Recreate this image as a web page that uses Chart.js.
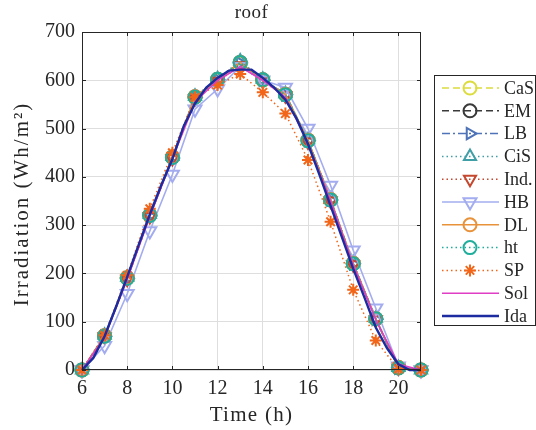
<!DOCTYPE html>
<html>
<head>
<meta charset="utf-8">
<script src="https://cdn.jsdelivr.net/npm/chart.js@4.4.1/dist/chart.umd.min.js"></script>
<style>
  html, body { margin: 0; padding: 0; background: #fff; }
  #wrap { width: 536px; height: 430px; position: relative; }
</style>
</head>
<body>
<div id="wrap"><canvas id="myChart"></canvas></div>
<script>
// hourly samples
const hours = [6, 7, 8, 9, 10, 11, 12, 13, 14, 15, 16, 17, 18, 19, 20, 21];
const cas = [0, 70, 190, 320, 440, 565, 600, 635, 600, 570, 475, 352, 220, 105, 5, 0];
const em  = [0, 71, 191, 321, 441, 566, 602, 637, 601, 571, 476, 353, 221, 106, 5, 0];
const lb  = [0, 70, 189, 319, 439, 564, 601, 636, 600, 570, 475, 352, 220, 105, 4, 0];
const cis = [0, 72, 192, 322, 442, 567, 603, 640, 602, 572, 477, 354, 222, 107, 5, 0];
const ind = [0, 69, 188, 318, 438, 562, 598, 630, 598, 568, 472, 350, 218, 104, 4, 0];
const hb  = [0, 50, 158, 288, 405, 540, 582, 628, 600, 585, 500, 382, 248, 128, 8, 0];
const dl  = [0, 71, 191, 321, 441, 566, 602, 637, 601, 571, 476, 353, 221, 106, 5, 0];
const ht  = [0, 70, 190, 320, 440, 565, 602, 637, 601, 570, 475, 352, 220, 106, 4, 0];
const sp  = [0, 72, 196, 334, 450, 565, 590, 613, 575, 531, 435, 307, 166, 61, 2, 0];
const sol = [0, 68, 188, 318, 438, 555, 600, 628, 600, 565, 470, 350, 218, 104, 12, 0];

// half-hourly samples
const idaHours = [6, 6.5, 7, 7.5, 8, 8.5, 9, 9.5, 10, 10.5, 11, 11.5, 12, 12.5, 13, 13.5,
                  14, 14.5, 15, 15.5, 16, 16.5, 17, 17.5, 18, 18.5, 19, 19.5, 20, 20.5, 21];
const ida = [0, 25, 70, 130, 193, 258, 322, 382, 437, 505, 552, 585, 605, 620, 622, 622,
             605, 585, 560, 520, 468, 405, 340, 275, 210, 150, 88, 45, 12, 0, 0];

const xTicks = [6, 8, 10, 12, 14, 16, 18, 20];
const yTicks = [0, 100, 200, 300, 400, 500, 600, 700];

const FONT = "'Liberation Serif', 'DejaVu Serif', serif";
const INK = '#262626';

function pts(xs, ys) {
    return xs.map(function (x, i) { return { x: x, y: ys[i] }; });
}

function series(label, xs, ys, color, dash, style, rot, width, radius) {
    return {
        label: label,
        data: pts(xs, ys),
        borderColor: color,
        backgroundColor: color,
        borderWidth: width || 1.5,
        borderDash: dash,
        pointStyle: style || false,
        pointRotation: rot || 0,
        pointRadius: style ? (radius || 6.5) : 0,
        pointBorderColor: color,
        pointBackgroundColor: 'rgba(0,0,0,0)',
        pointBorderWidth: 2,
        tension: 0,
        clip: false,
        fill: false,
    };
}

const datasets = [
    series('CaS', hours, cas, '#dcdc3c', [7, 4], 'circle'),
    series('EM', hours, em, '#3a3a3a', [7, 4], 'circle'),
    series('LB', hours, lb, '#4f73b8', [8, 3, 2, 3], 'triangle', 90),
    series('CiS', hours, cis, '#3f9ea6', [1.5, 3], 'triangle', 0, 1.5, 7),
    series('Ind.', hours, ind, '#c4472e', [1.5, 3], 'triangle', 180, 1.5, 7),
    series('HB', hours, hb, '#a3acef', [], 'triangle', 180, 1.6, 7.5),
    series('DL', hours, dl, '#e8923a', [], 'circle'),
    series('ht', hours, ht, '#1fae9c', [1.5, 3], 'circle'),
    series('SP', hours, sp, '#f2661a', [1.5, 3], 'star', 0, 1.5, 6),
    series('Sol', hours, sol, '#e03ec4', [], false, 0, 1.6),
    series('Ida', idaHours, ida, '#1c2ba0', [], false, 0, 2.4),
];
// later series on top, like the original plot
datasets.forEach(function (d, i) { d.order = -i; });

const frame = {
    id: 'frame',
    afterDatasetsDraw(chart) {
        const ctx = chart.ctx;
        const a = chart.chartArea;
        const sx = chart.scales.x, sy = chart.scales.y;
        ctx.save();
        ctx.strokeStyle = INK;
        ctx.lineWidth = 1;
        ctx.beginPath();
        ctx.rect(a.left + 0.5, a.top + 0.5, a.right - a.left - 1, a.bottom - a.top - 1);
        // inward tick marks
        xTicks.forEach(function (t) {
            const px = Math.round(sx.getPixelForValue(t)) + 0.5;
            ctx.moveTo(px, a.bottom); ctx.lineTo(px, a.bottom - 4);
            ctx.moveTo(px, a.top); ctx.lineTo(px, a.top + 4);
        });
        yTicks.forEach(function (t) {
            const py = Math.round(sy.getPixelForValue(t)) + 0.5;
            ctx.moveTo(a.left, py); ctx.lineTo(a.left + 4, py);
            ctx.moveTo(a.right, py); ctx.lineTo(a.right - 4, py);
        });
        ctx.stroke();

        // title and axis titles
        ctx.fillStyle = INK;
        ctx.textAlign = 'center';
        ctx.textBaseline = 'middle';
        ctx.font = '19px ' + FONT;
        ctx.letterSpacing = '0.5px';
        ctx.fillText('roof', (a.left + a.right) / 2, 13);
        ctx.font = '21px ' + FONT;
        ctx.letterSpacing = '1.3px';
        ctx.fillText('Time (h)', (a.left + a.right) / 2, 415);
        ctx.save();
        ctx.translate(22, (a.top + a.bottom) / 2 + 3);
        ctx.rotate(-Math.PI / 2);
        ctx.letterSpacing = '2px';
        ctx.fillText('Irradiation (Wh/m²)', 0, 0);
        ctx.restore();
        ctx.letterSpacing = '0px';

        // legend
        const bx = 434, by = 75, bw = 102, bh = 251;
        ctx.fillStyle = '#fff';
        ctx.fillRect(bx, by, bw, bh);
        ctx.strokeStyle = INK;
        ctx.strokeRect(bx + 0.5, by + 0.5, bw - 1, bh - 1);
        ctx.font = '18px ' + FONT;
        ctx.textAlign = 'left';
        chart.data.datasets.forEach(function (d, i) {
            const y = 88 + i * 22.8;
            ctx.save();
            ctx.strokeStyle = d.borderColor;
            ctx.lineWidth = d.borderWidth;
            ctx.setLineDash(d.borderDash || []);
            ctx.beginPath();
            ctx.moveTo(442, y); ctx.lineTo(499, y);
            ctx.stroke();
            ctx.setLineDash([]);
            if (d.pointStyle) {
                ctx.strokeStyle = d.pointBorderColor;
                ctx.fillStyle = d.pointBackgroundColor;
                ctx.lineWidth = d.pointBorderWidth;
                Chart.helpers.drawPoint(ctx, {
                    pointStyle: d.pointStyle,
                    rotation: d.pointRotation,
                    radius: d.pointRadius,
                    borderWidth: d.pointBorderWidth
                }, 470, y);
            }
            ctx.restore();
            ctx.fillStyle = INK;
            ctx.fillText(d.label, 504, y + 1);
        });
        ctx.restore();
    }
};

Chart.defaults.font.family = FONT;
Chart.defaults.color = INK;

const config = {
    type: 'line',
    data: { datasets: datasets },
    options: {
        responsive: true,
        maintainAspectRatio: false,
        animation: false,
        events: [],
        layout: { padding: { left: 0, top: 32, right: 115, bottom: 0 } },
        plugins: {
            legend: { display: false },
            tooltip: { enabled: false },
            title: { display: false }
        },
        scales: {
            x: {
                type: 'linear',
                min: 6,
                max: 21,
                afterBuildTicks: function (s) { s.ticks = xTicks.map(function (v) { return { value: v }; }); },
                afterFit: function (s) { s.height = 60; },
                ticks: { font: { size: 20 }, color: INK, padding: 7, maxRotation: 0 },
                grid: { color: '#dedede', drawTicks: false },
                border: { display: false }
            },
            y: {
                min: 0,
                max: 700,
                afterBuildTicks: function (s) { s.ticks = yTicks.map(function (v) { return { value: v }; }); },
                afterFit: function (s) { s.width = 82; },
                ticks: { font: { size: 20 }, color: INK, padding: 7 },
                grid: { color: '#dedede', drawTicks: false },
                border: { display: false }
            }
        }
    },
    plugins: [frame]
};

const myChart = new Chart(document.getElementById('myChart').getContext('2d'), config);
</script>
</body>
</html>
